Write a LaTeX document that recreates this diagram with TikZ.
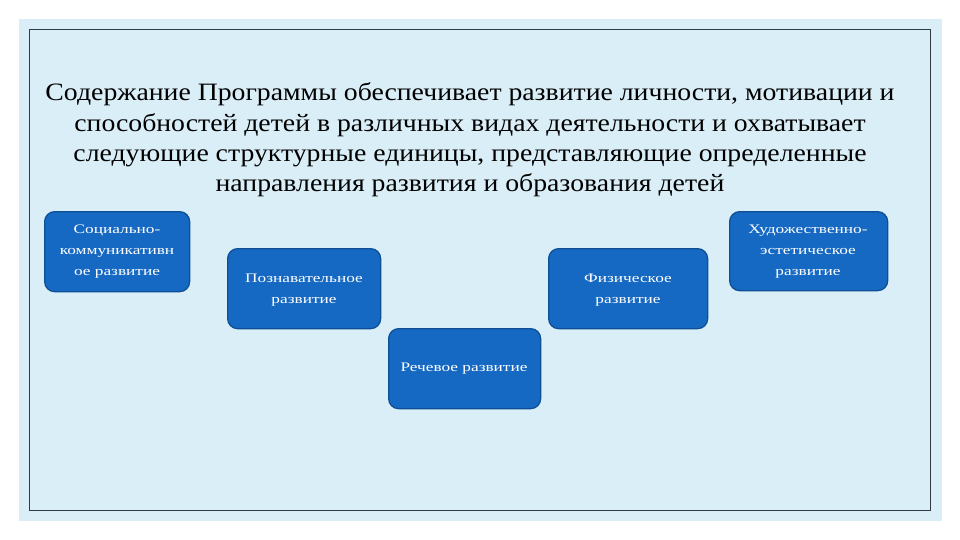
\documentclass[tikz,border=0pt]{standalone}
\usepackage{fontspec}
\setmainfont{Liberation Serif}
\newfontfamily\titlefont[FakeStretch=1.11]{Liberation Serif}
\newfontfamily\boxfont[FakeStretch=1.33]{Liberation Serif}
\definecolor{bgblue}{HTML}{DAEEF7}
\definecolor{boxfill}{HTML}{1669C2}
\definecolor{boxline}{HTML}{0E4F95}
\definecolor{frameline}{HTML}{2E3B46}
\begin{document}
\begin{tikzpicture}[x=1pt,y=-1pt,
  unit/.style={draw=boxline,line width=1.3pt,fill=boxfill,rounded corners=10pt,inner sep=0pt},
  utext/.style={text=white,font=\boxfont\fontsize{13}{21}\selectfont,align=center},
  title/.style={font=\titlefont\fontsize{25}{30.3}\selectfont,align=center,text=black}]
\useasboundingbox (0,0) rectangle (960,540);
\fill[white] (0,0) rectangle (960,540);
\fill[bgblue] (19,19) rectangle (942,521);
\draw[frameline,line width=1pt] (29.5,29.5) rectangle (930.5,510.5);
\node[title] (t) at (470,140) {Содержание Программы  обеспечивает  развитие личности, мотивации и\\способностей детей в различных видах деятельности и охватывает\\следующие структурные единицы, представляющие определенные\\направления развития и образования детей};
\node[unit,minimum width=145pt,minimum height=80pt,anchor=north west] (soc) at (44,211) {};
\node[utext] (soct) at (117,252) {Социально-\\коммуникативн\\ое  развитие};
\node[unit,minimum width=153pt,minimum height=80pt,anchor=north west] (poz) at (227,248) {};
\node[utext] (pozt) at (304,290) {Познавательное\\развитие};
\node[unit,minimum width=152pt,minimum height=80pt,anchor=north west] (rech) at (388,328) {};
\node[utext] (recht) at (464,369) {Речевое развитие};
\node[unit,minimum width=159pt,minimum height=80pt,anchor=north west] (fiz) at (548,248) {};
\node[utext] (fizt) at (628,290) {Физическое\\развитие};
\node[unit,minimum width=158pt,minimum height=79pt,anchor=north west] (hud) at (729,211) {};
\node[utext] (hudt) at (808,252) {Художественно-\\эстетическое\\развитие};
\end{tikzpicture}
\end{document}
